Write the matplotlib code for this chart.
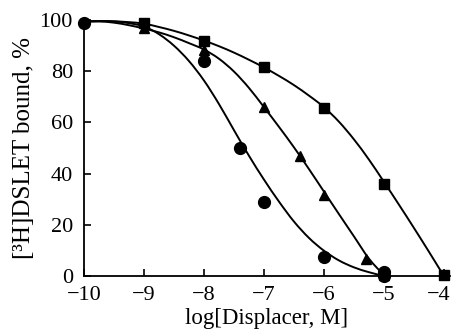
import matplotlib
matplotlib.use("Agg")
import matplotlib.pyplot as plt
from matplotlib.path import Path
from matplotlib.patches import PathPatch

plt.rcParams['font.family'] = ['Liberation Serif', 'DejaVu Serif']

# measured points
circle_x = [-10, -8, -7.4, -7, -6, -5, -5]
circle_y = [99, 84, 50, 29, 7.5, 1.5, 0]
tri_x = [-9, -8, -7, -6.4, -6, -5.3, -5]
tri_y = [97, 88.5, 66, 47, 31.5, 6.5, 0.5]
sq_x = [-9, -8, -7, -6, -5, -4]
sq_y = [99, 92, 81.5, 65.5, 36, 0.5]

# fitted curves
curve_x = [-10, -9.75, -9.5, -9.25, -9, -8.75, -8.5, -8.25, -8, -7.75, -7.5,
           -7.25, -7, -6.75, -6.5, -6.25, -6, -5.75, -5.5, -5.25, -5,
           -4.75, -4.5, -4.25, -4]
circle_fit = [99.3, 99.6, 99.5, 98.8, 97.5, 94.5, 90, 84, 76.4, 67.2, 57,
              47, 37.7, 29.1, 21.3, 14.9, 9.9, 6.1, 3.4, 1.5, 0]
tri_fit = [99.5, 99.5, 99, 98, 96.7, 95.2, 93.3, 91, 88.5, 84.9, 79.9,
           73.5, 66, 58.3, 50.3, 41.8, 33, 24.2, 15.5, 6.8, 0.3]
sq_fit = [99.5, 99.6, 99.5, 99.2, 98.6, 97.3, 95.8, 94, 92, 89.8, 87.3,
          84.5, 81.5, 78.2, 74.6, 70.5, 66, 60.3, 53.4, 45.5, 36.8,
          27.9, 18.8, 9.5, 0]

xticks = [-10, -9, -8, -7, -6, -5, -4]
yticks = [0, 20, 40, 60, 80, 100]


def smooth_path(xs, ys):
    # Catmull-Rom through the read points, drawn as cubic Bezier segments
    verts = [(xs[0], ys[0])]
    codes = [Path.MOVETO]
    n = len(xs)
    for i in range(n - 1):
        x0, y0 = (xs[i - 1], ys[i - 1]) if i > 0 else (xs[i], ys[i])
        x1, y1 = xs[i], ys[i]
        x2, y2 = xs[i + 1], ys[i + 1]
        x3, y3 = (xs[i + 2], ys[i + 2]) if i + 2 < n else (x2, y2)
        verts += [(x1 + (x2 - x0) / 6, y1 + (y2 - y0) / 6),
                  (x2 - (x3 - x1) / 6, y2 - (y3 - y1) / 6),
                  (x2, y2)]
        codes += [Path.CURVE4] * 3
    return Path(verts, codes)


fig = plt.figure(figsize=(4.54, 3.35), dpi=100)
ax = fig.add_axes([0.185, 0.176, 0.806, 0.764])

for fit in [circle_fit, tri_fit, sq_fit]:
    p = smooth_path(curve_x[:len(fit)], fit)
    ax.add_patch(PathPatch(p, facecolor='none', edgecolor='black', lw=1.4))

ax.plot(sq_x, sq_y, 's', color='black', ms=6.5, clip_on=False)
ax.plot(tri_x, tri_y, '^', color='black', ms=7.5, clip_on=False)
ax.plot(circle_x, circle_y, 'o', color='black', ms=8.5, clip_on=False)

ax.set_xlim(-10, -3.9)
ax.set_ylim(0, 100)
ax.set_xticks(xticks)
labels = ['\u2212%d' % abs(t) for t in xticks]
# last label is drawn separately, pulled a little left so it fits in the figure
ax.set_xticklabels(labels[:-1] + [''])
ax.annotate(labels[-1], xy=(xticks[-1], 0), xycoords=('data', 'axes fraction'),
            xytext=(-4, -7), textcoords='offset points', ha='center', va='top',
            fontsize=16)
ax.set_yticks(yticks)
ax.tick_params(direction='in', length=5, width=1.2, labelsize=16, colors='black')
ax.tick_params(axis='x', pad=7)
ax.tick_params(axis='y', pad=8)

for side in ['top', 'right']:
    ax.spines[side].set_visible(False)
for side in ['left', 'bottom']:
    ax.spines[side].set_linewidth(1.3)

ax.set_xlabel('log[Displacer, M]', fontsize=16.5, labelpad=2)
ax.set_ylabel('[\u00b3H]DSLET bound, %', fontsize=18, labelpad=3)

fig.savefig('out.png', dpi=100)
